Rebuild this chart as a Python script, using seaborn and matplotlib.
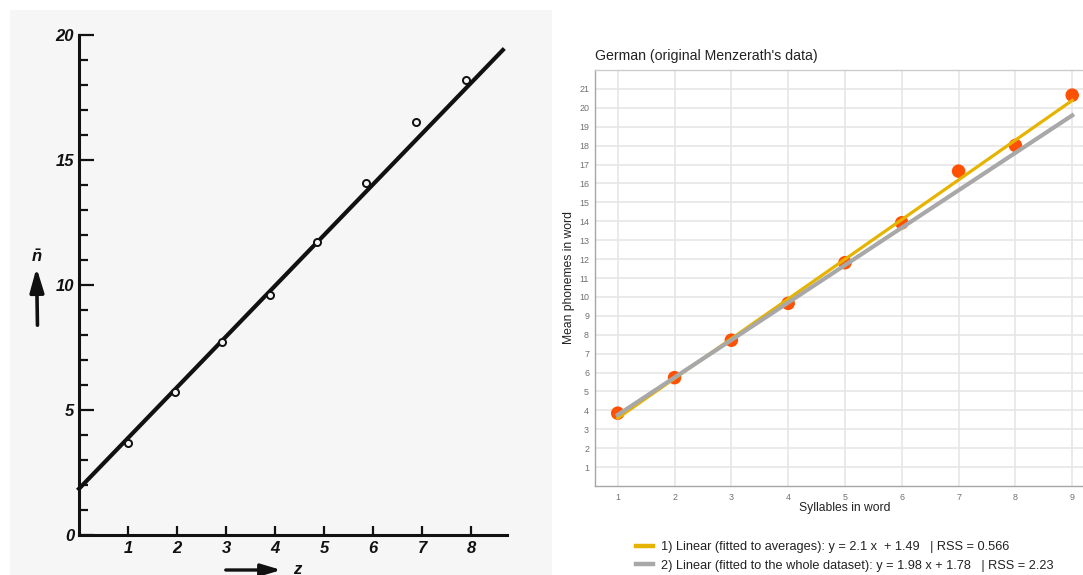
import matplotlib
matplotlib.use("Agg")
import matplotlib.pyplot as plt
import seaborn as sns
from matplotlib.lines import Line2D
from matplotlib.patches import Rectangle, FancyArrowPatch

# ---- Menzerath's original figure: syllables per word (z) vs. mean phonemes (n-bar)
z_orig = [0.99, 1.95, 2.91, 3.90, 4.86, 5.86, 6.88, 7.90]
n_orig = [3.70, 5.71, 7.73, 9.62, 11.71, 14.08, 16.53, 18.22]
line_orig_z = [0.0, 8.65]
line_orig_n = [1.85, 19.40]
orig_xticks = [1, 2, 3, 4, 5, 6, 7, 8]
orig_yticks = [0, 5, 10, 15, 20]

# ---- German averages and two linear fits
syllables = [1, 2, 3, 4, 5, 6, 7, 8, 9]
mean_phonemes = [3.85, 5.73, 7.71, 9.66, 11.81, 13.92, 16.65, 18.01, 20.67]
fit_labels = [
    "1) Linear (fitted to averages): y = 2.1 x  + 1.49   | RSS = 0.566",
    "2) Linear (fitted to the whole dataset): y = 1.98 x + 1.78   | RSS = 2.23",
]
fit_slopes = [2.1, 1.98]
fit_intercepts = [1.49, 1.78]
fit_colors = ["#E6B400", "#A8A8A8"]
fit_widths = [2.3, 3.0]
fit_range = [1, 9]

W, H = 1083, 575
plt.rcParams["mathtext.fontset"] = "custom"
plt.rcParams["mathtext.it"] = "Liberation Sans:italic:bold"
plt.rcParams["mathtext.rm"] = "Liberation Sans:bold"

fig = plt.figure(figsize=(W / 100, H / 100), dpi=100)
fig.patch.set_facecolor("white")

paper = "#f6f6f6"
ink = "#111111"
fig.patches.append(Rectangle((10 / W, 0), 542 / W, 565 / H, transform=fig.transFigure,
                             facecolor=paper, edgecolor="none", zorder=-5))

# ---------------- left panel ----------------
axl = fig.add_axes([54.5 / W, 15 / H, 490 / W, 550 / H])
axl.patch.set_visible(False)
axl.set_xlim(-0.5, 9.5)
axl.set_ylim(-1, 21)
for s in ("top", "right"):
    axl.spines[s].set_visible(False)
axl.spines["left"].set_position(("data", 0))
axl.spines["bottom"].set_position(("data", 0))
axl.spines["left"].set_bounds(0, 20)
axl.spines["bottom"].set_bounds(0, 8.73)
for s in ("left", "bottom"):
    axl.spines[s].set_linewidth(2.2)
    axl.spines[s].set_color(ink)

sns.lineplot(x=line_orig_z, y=line_orig_n, ax=axl, color=ink, linewidth=3.0, zorder=2)
sns.scatterplot(x=z_orig, y=n_orig, ax=axl, marker="o", s=26, facecolor=paper,
                edgecolor=ink, linewidth=1.4, zorder=3)

axl.set_xticks(orig_xticks)
axl.set_yticks(orig_yticks)
axl.set_yticks(range(0, 21), minor=True)
axl.tick_params(axis="y", which="major", direction="in", length=11, width=1.6,
                pad=3.5, colors=ink)
axl.tick_params(axis="y", which="minor", direction="in", length=6.5, width=1.6, colors=ink)
axl.tick_params(axis="x", which="major", direction="in", length=6.5, width=1.6,
                pad=4, colors=ink)
for lab in axl.get_xticklabels() + axl.get_yticklabels():
    lab.set_fontfamily("Liberation Sans")
    lab.set_fontstyle("italic")
    lab.set_fontweight("bold")
    lab.set_fontsize(12)
axl.set_xlabel("")
axl.set_ylabel("")

# axis arrows with their symbols
fig.add_artist(FancyArrowPatch(posA=(37.5 / W, (H - 328) / H), posB=(36.5 / W, (H - 265) / H),
                               transform=fig.transFigure,
                               arrowstyle="-|>,head_length=1.2,head_width=0.35",
                               mutation_scale=12, linewidth=2.6, color=ink))
fig.text(37 / W, (H - 257) / H, r"$\bar{n}$", ha="center", va="center", fontsize=12, color=ink)
fig.add_artist(FancyArrowPatch(posA=(223 / W, (H - 570) / H), posB=(284 / W, (H - 570) / H),
                               transform=fig.transFigure,
                               arrowstyle="-|>,head_length=1.0,head_width=0.3",
                               mutation_scale=12, linewidth=2.4, color=ink))
fig.text(297 / W, (H - 573.5) / H, "z", ha="center", va="baseline", fontsize=12, color=ink,
         family="Liberation Sans", style="italic", weight="bold")

# ---------------- right panel ----------------
axr = fig.add_axes([595 / W, 89 / H, 488 / W, 416 / H])
axr.set_facecolor("white")
sns.scatterplot(x=syllables, y=mean_phonemes, ax=axr, color="#FF5105", s=95,
                edgecolor="none", zorder=3)
for slope, icpt, col, lw in zip(fit_slopes, fit_intercepts, fit_colors, fit_widths):
    ys = [slope * x + icpt for x in fit_range]
    sns.lineplot(x=fit_range, y=ys, ax=axr, color=col, linewidth=lw, zorder=4)

axr.set_xlim(0.6, 9.19)
axr.set_ylim(0, 22)
axr.set_xticks(syllables)
axr.set_yticks(range(1, 22))
axr.grid(True, color="#e6e6e6", linewidth=1.2, zorder=0)
axr.set_axisbelow(True)
axr.spines["right"].set_visible(False)
axr.spines["top"].set_color("#cccccc")
axr.spines["left"].set_color("#a6a6a6")
axr.spines["bottom"].set_color("#a6a6a6")
for s in ("top", "left", "bottom"):
    axr.spines[s].set_linewidth(1.0)
axr.tick_params(axis="both", length=0, labelsize=6.4, labelcolor="#707070")
axr.tick_params(axis="y", pad=4.3)
axr.tick_params(axis="x", pad=5)
for lab in axr.get_xticklabels() + axr.get_yticklabels():
    lab.set_fontfamily("Liberation Sans")

axr.set_xlabel("Syllables in word", fontsize=8.7, color="#222222", family="Liberation Sans")
axr.xaxis.set_label_coords((845 - 595) / 488, (486 - 502) / 416)
axr.set_ylabel("Mean phonemes in word", fontsize=8.7, color="#222222", family="Liberation Sans")
axr.yaxis.set_label_coords((569 - 595) / 488, 0.5)
axr.yaxis.label.set_verticalalignment("center")

fig.text(595 / W, (H - 56) / H, "German (original Menzerath's data)", ha="left", va="center",
         fontsize=10.2, color="#222222", family="Liberation Sans")

handles = [Line2D([], [], color=c, linewidth=3.2) for c in fit_colors]
leg = fig.legend(handles, fit_labels, loc="center left",
                 bbox_to_anchor=(636 / W, (H - 556.5) / H), frameon=False,
                 borderpad=0, borderaxespad=0, handlelength=1.35, handletextpad=0.6,
                 labelspacing=0.5, prop={"family": "Liberation Sans", "size": 9.2})
for t in leg.get_texts():
    t.set_color("#222222")

fig.savefig("out.png", dpi=100, facecolor="white")
